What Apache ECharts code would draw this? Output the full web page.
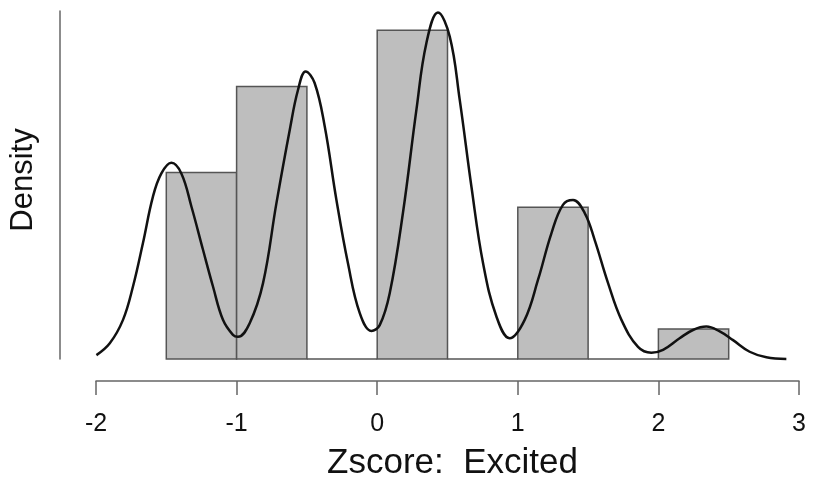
<!DOCTYPE html>
<html>
<head>
<meta charset="utf-8">
<script src="https://cdn.jsdelivr.net/npm/echarts@6/dist/echarts.min.js"></script>
<style>
  html, body { margin: 0; padding: 0; background: #fff; }
  #chart { width: 817px; height: 487px; }
</style>
</head>
<body>
<div id="chart"></div>
<script>
// histogram bins (width 0.5) and density heights
const binStart = [-1.5, -1.0, -0.5, 0.0, 0.5, 1.0, 1.5, 2.0];
const binEnd = [-1.0, -0.5, 0.0, 0.5, 1.0, 1.5, 2.0, 2.5];
const binDensity = [0.386, 0.564, 0, 0.68, 0, 0.314, 0, 0.062];

// kernel density curve
const kdeX = [
  -1.997, -1.902, -1.808, -1.737, -1.666, -1.595, -1.535, -1.464, -1.393, -1.321,
  -1.239, -1.168, -1.097, -1.026, -0.990, -0.907, -0.812, -0.717, -0.622, -0.563,
  -0.509, -0.445, -0.373, -0.290, -0.208, -0.124, -0.041, 0.018, 0.089, 0.183,
  0.279, 0.350, 0.432, 0.516, 0.587, 0.670, 0.753, 0.848, 0.942, 1.049,
  1.144, 1.239, 1.321, 1.393, 1.476, 1.547, 1.642, 1.737, 1.855, 1.950,
  2.033, 2.151, 2.246, 2.341, 2.436, 2.531, 2.649, 2.768, 2.910
];
const kdeY = [
  0.008, 0.0325, 0.081, 0.150, 0.240, 0.336, 0.384, 0.406, 0.384, 0.315,
  0.226, 0.150, 0.081, 0.050, 0.046, 0.074, 0.157, 0.322, 0.474, 0.557,
  0.595, 0.571, 0.481, 0.329, 0.198, 0.095, 0.058, 0.070, 0.136, 0.302,
  0.516, 0.654, 0.717, 0.667, 0.536, 0.357, 0.198, 0.088, 0.043, 0.081,
  0.164, 0.260, 0.319, 0.329, 0.302, 0.246, 0.157, 0.081, 0.025, 0.013,
  0.019, 0.043, 0.060, 0.067, 0.057, 0.039, 0.015, 0.0035, 0
];

const xTicks = [-2, -1, 0, 1, 2, 3];

const chart = echarts.init(document.getElementById('chart'));
const font = 'Liberation Sans, Arial, sans-serif';

const histData = binStart.map((s, i) => [s, binEnd[i], binDensity[i]]);
const kdeData = kdeX.map((x, i) => [x, kdeY[i]]);

chart.setOption({
  animation: false,
  backgroundColor: '#fff',
  grid: { left: 96, right: 18, top: 11, bottom: 128, outerBoundsMode: 'none' },
  xAxis: {
    type: 'value',
    min: xTicks[0],
    max: xTicks[xTicks.length - 1],
    interval: 1,
    offset: 22,
    name: 'Zscore:  Excited',
    nameLocation: 'middle',
    nameGap: 65,
    nameTextStyle: { fontFamily: font, fontSize: 35, color: '#111', padding: [0, 0, 0, 10] },
    axisLine: { show: true, onZero: false, lineStyle: { color: '#666', width: 1.5 } },
    axisTick: { show: true, length: 14, lineStyle: { color: '#666', width: 1.5 } },
    axisLabel: { fontFamily: font, fontSize: 25, color: '#111', margin: 31 },
    splitLine: { show: false }
  },
  yAxis: {
    type: 'value',
    min: 0,
    max: 0.72,
    offset: 36,
    name: 'Density',
    nameLocation: 'middle',
    nameGap: 21,
    nameTextStyle: { fontFamily: font, fontSize: 31, color: '#111', padding: [0, 0, 0, 10] },
    axisLine: { show: true, onZero: false, lineStyle: { color: '#666', width: 1.5 } },
    axisTick: { show: false },
    axisLabel: { show: false },
    splitLine: { show: false }
  },
  series: [
    {
      type: 'custom',
      data: histData,
      encode: { x: [0, 1], y: 2 },
      renderItem: function (params, api) {
        const p0 = api.coord([api.value(0), api.value(2)]);
        const p1 = api.coord([api.value(1), 0]);
        return {
          type: 'rect',
          shape: { x: p0[0], y: p0[1], width: p1[0] - p0[0], height: p1[1] - p0[1] },
          style: { fill: '#bebebe', stroke: '#555', lineWidth: 1.5 }
        };
      }
    },
    {
      type: 'line',
      data: kdeData,
      smooth: 0.4,
      showSymbol: false,
      clip: false,
      lineStyle: { color: '#111', width: 2.5 },
      z: 5
    }
  ]
});
</script>
</body>
</html>
